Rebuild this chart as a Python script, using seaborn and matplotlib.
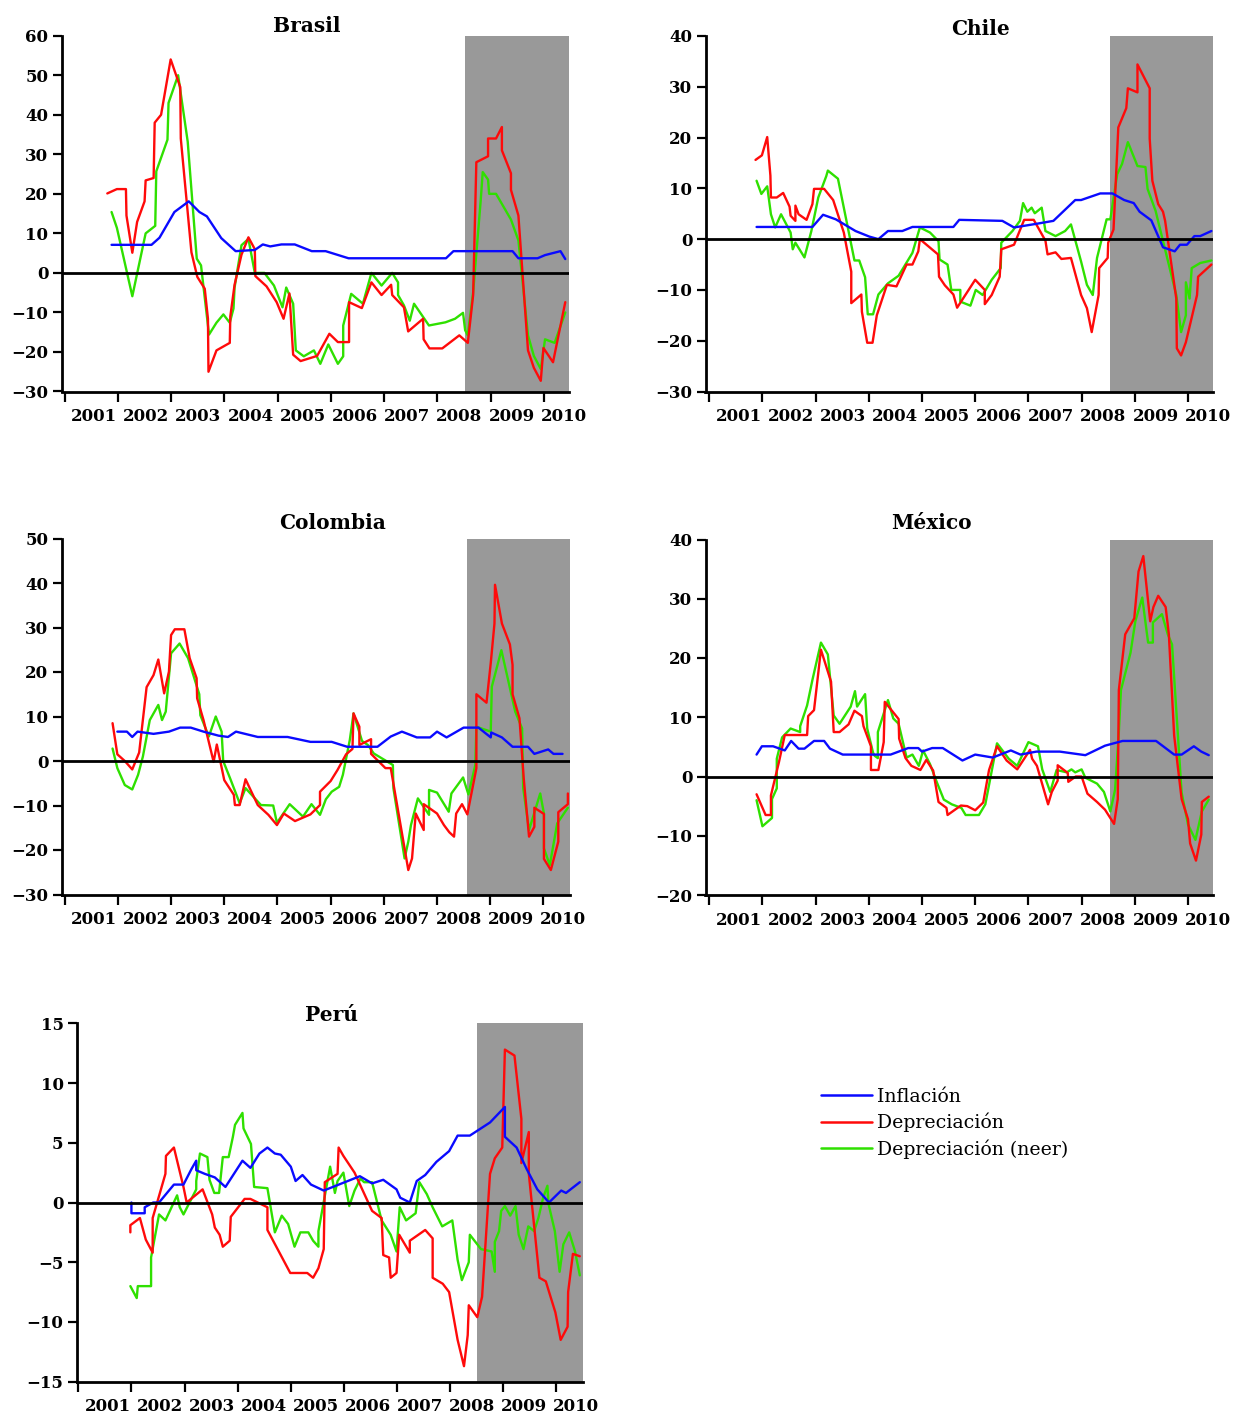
import matplotlib
matplotlib.use("Agg")
import matplotlib.pyplot as plt
from matplotlib.lines import Line2D
import numpy as np
import pandas as pd
import seaborn as sns

# ---------------------------------------------------------------------------
# Series: (decimal year, % y/y). Vertices of each monthly line.
# ---------------------------------------------------------------------------
BRASIL_INFLACION = [
    (2001.88, 7.1), (2002.63, 7.1), (2002.78, 8.9), (2003.06, 15.4), (2003.33, 18.1),
    (2003.53, 15.4), (2003.67, 14.3), (2003.94, 8.8), (2004.21, 5.5), (2004.57, 5.8),
    (2004.72, 7.2), (2004.86, 6.7), (2005.07, 7.2), (2005.32, 7.2), (2005.64, 5.5),
    (2005.90, 5.5), (2006.33, 3.7), (2008.16, 3.7), (2008.30, 5.5), (2009.41, 5.5),
    (2009.52, 3.7), (2009.88, 3.7), (2010.02, 4.5), (2010.31, 5.5), (2010.40, 3.5),
]
BRASIL_DEPRECIACION = [
    (2001.80, 20.1), (2001.98, 21.2), (2002.15, 21.2), (2002.16, 14.5), (2002.27, 5.1),
    (2002.36, 12.9), (2002.50, 18.1), (2002.52, 23.4), (2002.67, 24.0), (2002.69, 38.0),
    (2002.81, 40.0), (2002.99, 54.0), (2003.17, 47.0), (2003.18, 34.0), (2003.38, 5.2),
    (2003.49, -1.0), (2003.63, -4.0), (2003.69, -11.6), (2003.70, -25.0), (2003.85, -19.6),
    (2004.10, -17.7), (2004.11, -11.0), (2004.19, -3.0), (2004.32, 4.6), (2004.45, 9.0),
    (2004.57, 6.0), (2004.58, -0.8), (2004.79, -3.4), (2004.98, -7.4), (2005.11, -11.6),
    (2005.22, -5.2), (2005.29, -20.7), (2005.43, -22.3), (2005.74, -21.0), (2005.97, -15.4),
    (2006.13, -17.5), (2006.34, -17.5), (2006.34, -7.4), (2006.58, -8.9), (2006.76, -2.4),
    (2006.95, -5.6), (2007.13, -3.0), (2007.15, -5.6), (2007.37, -8.7), (2007.45, -14.8),
    (2007.73, -11.6), (2007.74, -16.8), (2007.85, -19.1), (2008.09, -19.1), (2008.41, -15.8),
    (2008.57, -17.7), (2008.67, -5.6), (2008.73, 28.0), (2008.95, 29.5), (2008.95, 34.0),
    (2009.10, 34.0), (2009.21, 36.9), (2009.21, 31.0), (2009.38, 25.2), (2009.38, 21.0),
    (2009.52, 14.5), (2009.70, -19.6), (2009.81, -24.0), (2009.94, -27.3), (2009.99, -19.0),
    (2010.17, -22.6), (2010.40, -7.4),
]
BRASIL_NEER = [
    (2001.88, 15.4), (2001.98, 11.4), (2002.27, -5.9), (2002.52, 10.0), (2002.70, 11.9),
    (2002.72, 25.7), (2002.93, 33.7), (2002.95, 43.0), (2003.13, 50.0), (2003.31, 33.2),
    (2003.48, 3.6), (2003.56, 1.9), (2003.71, -15.6), (2003.85, -12.6), (2003.98, -10.5),
    (2004.10, -12.6), (2004.17, -9.0), (2004.19, -3.7), (2004.32, 7.0), (2004.45, 8.6),
    (2004.57, 0.0), (2004.75, 0.0), (2004.93, -3.2), (2005.09, -8.7), (2005.16, -3.7),
    (2005.29, -7.8), (2005.34, -19.6), (2005.49, -21.1), (2005.68, -19.6), (2005.80, -23.0),
    (2005.95, -18.1), (2006.13, -23.0), (2006.23, -21.1), (2006.23, -13.3), (2006.38, -5.3),
    (2006.60, -7.8), (2006.76, 0.0), (2006.95, -3.2), (2007.15, 0.0), (2007.26, -2.4),
    (2007.26, -5.6), (2007.37, -8.2), (2007.48, -12.1), (2007.56, -7.8), (2007.84, -13.3),
    (2008.15, -12.5), (2008.33, -11.6), (2008.48, -10.1), (2008.52, -14.5), (2008.57, -15.8),
    (2008.67, -4.9), (2008.81, 18.0), (2008.85, 25.5), (2008.95, 23.6), (2008.97, 20.0),
    (2009.10, 20.0), (2009.38, 13.5), (2009.52, 8.2), (2009.70, -15.8), (2009.81, -21.0),
    (2009.94, -24.3), (2010.02, -16.8), (2010.20, -17.7), (2010.40, -10.0),
]

CHILE_INFLACION = [
    (2001.89, 2.4), (2002.94, 2.4), (2003.14, 4.8), (2003.38, 3.9), (2003.75, 1.6),
    (2004.01, 0.5), (2004.18, 0.0), (2004.36, 1.6), (2004.63, 1.6), (2004.82, 2.4),
    (2005.59, 2.4), (2005.70, 3.8), (2006.51, 3.6), (2006.73, 2.3), (2007.14, 3.0),
    (2007.47, 3.6), (2007.88, 7.7), (2007.99, 7.7), (2008.35, 9.0), (2008.58, 9.0),
    (2008.80, 7.7), (2008.98, 7.1), (2009.09, 5.4), (2009.31, 3.7), (2009.53, -1.6),
    (2009.75, -2.4), (2009.85, -1.1), (2009.98, -1.1), (2010.12, 0.6), (2010.23, 0.6),
    (2010.44, 1.6),
]
CHILE_DEPRECIACION = [
    (2001.87, 15.6), (2001.99, 16.5), (2002.09, 20.1), (2002.15, 12.5), (2002.16, 8.2),
    (2002.27, 8.2), (2002.39, 9.1), (2002.51, 6.4), (2002.53, 4.6), (2002.62, 3.6),
    (2002.62, 6.6), (2002.68, 4.9), (2002.83, 3.8), (2002.94, 6.9), (2002.97, 9.9),
    (2003.16, 9.9), (2003.33, 7.7), (2003.53, 1.3), (2003.67, -6.4), (2003.67, -12.6),
    (2003.86, -10.9), (2003.87, -14.3), (2003.97, -20.4), (2004.07, -20.4), (2004.15, -15.0),
    (2004.34, -9.0), (2004.52, -9.3), (2004.71, -5.0), (2004.82, -5.0), (2004.93, -2.4),
    (2004.96, 0.0), (2005.30, -3.0), (2005.32, -7.4), (2005.43, -9.1), (2005.59, -10.9),
    (2005.66, -13.5), (2006.00, -8.0), (2006.18, -10.0), (2006.18, -12.8), (2006.31, -11.0),
    (2006.46, -7.4), (2006.49, -2.0), (2006.73, -1.1), (2006.92, 3.8), (2007.10, 3.8),
    (2007.32, -0.3), (2007.36, -3.0), (2007.51, -2.6), (2007.62, -3.9), (2007.80, -3.7),
    (2007.99, -11.0), (2008.10, -13.6), (2008.19, -18.3), (2008.32, -11.0), (2008.33, -5.7),
    (2008.49, -3.7), (2008.50, -0.7), (2008.60, 1.9), (2008.69, 22.0), (2008.84, 25.8),
    (2008.87, 29.7), (2009.05, 28.9), (2009.05, 34.4), (2009.28, 29.7), (2009.28, 19.8),
    (2009.33, 11.5), (2009.44, 6.9), (2009.53, 5.4), (2009.57, 3.6), (2009.78, -11.7),
    (2009.79, -21.5), (2009.87, -22.9), (2009.96, -20.3), (2010.17, -11.0), (2010.19, -7.4),
    (2010.44, -5.0),
]
CHILE_NEER = [
    (2001.89, 11.5), (2001.98, 8.9), (2002.09, 10.4), (2002.16, 4.9), (2002.24, 2.3),
    (2002.35, 4.9), (2002.53, 1.3), (2002.57, -2.0), (2002.62, -0.7), (2002.79, -3.6),
    (2002.92, 1.6), (2003.05, 8.2), (2003.20, 12.4), (2003.23, 13.5), (2003.42, 11.9),
    (2003.53, 6.2), (2003.73, -4.2), (2003.82, -4.2), (2003.93, -7.5), (2003.98, -14.8),
    (2004.08, -14.8), (2004.18, -10.9), (2004.36, -8.7), (2004.56, -7.2), (2004.82, -2.7),
    (2004.96, 2.3), (2005.15, 1.3), (2005.31, -0.4), (2005.33, -4.0), (2005.48, -5.0),
    (2005.55, -10.0), (2005.72, -10.0), (2005.72, -12.3), (2005.91, -13.1), (2006.01, -10.0),
    (2006.14, -11.0), (2006.31, -8.0), (2006.48, -5.7), (2006.49, -0.7), (2006.70, 1.6),
    (2006.84, 3.6), (2006.90, 7.1), (2006.98, 5.4), (2007.06, 6.2), (2007.12, 5.1),
    (2007.25, 6.2), (2007.32, 1.6), (2007.51, 0.6), (2007.69, 1.6), (2007.80, 2.9),
    (2007.99, -4.4), (2008.10, -9.0), (2008.21, -11.0), (2008.29, -3.7), (2008.47, 3.9),
    (2008.54, 3.9), (2008.67, 12.8), (2008.76, 14.8), (2008.87, 19.1), (2009.05, 14.4),
    (2009.20, 14.2), (2009.24, 9.9), (2009.39, 5.6), (2009.78, -11.0), (2009.87, -18.3),
    (2009.96, -15.0), (2009.96, -8.5), (2010.03, -11.7), (2010.07, -5.7), (2010.23, -4.7),
    (2010.44, -4.2),
]

COLOMBIA_INFLACION = [
    (2001.99, 6.6), (2002.17, 6.6), (2002.27, 5.4), (2002.37, 6.6), (2002.67, 6.1),
    (2002.96, 6.6), (2003.17, 7.5), (2003.37, 7.5), (2003.61, 6.6), (2003.89, 5.7),
    (2004.07, 5.4), (2004.22, 6.6), (2004.63, 5.4), (2005.19, 5.4), (2005.62, 4.3),
    (2006.02, 4.3), (2006.31, 3.2), (2006.88, 3.2), (2007.13, 5.5), (2007.34, 6.6),
    (2007.62, 5.3), (2007.87, 5.3), (2008.00, 6.6), (2008.18, 5.3), (2008.50, 7.5),
    (2008.78, 7.5), (2009.01, 5.3), (2009.02, 6.4), (2009.22, 5.3), (2009.42, 3.2),
    (2009.71, 3.2), (2009.83, 1.6), (2010.09, 2.6), (2010.19, 1.6), (2010.36, 1.6),
]
COLOMBIA_DEPRECIACION = [
    (2001.90, 8.5), (2001.99, 1.5), (2002.13, 0.0), (2002.27, -1.9), (2002.40, 1.9),
    (2002.54, 16.6), (2002.67, 19.3), (2002.76, 22.8), (2002.87, 15.2), (2002.96, 20.1),
    (2003.00, 28.3), (2003.07, 29.6), (2003.25, 29.6), (2003.35, 23.1), (2003.48, 18.6),
    (2003.49, 14.1), (2003.61, 9.2), (2003.80, -0.2), (2003.86, 3.7), (2004.00, -4.3),
    (2004.18, -7.6), (2004.20, -9.9), (2004.29, -9.9), (2004.40, -4.1), (2004.51, -6.9),
    (2004.63, -9.9), (2004.83, -12.1), (2004.99, -14.4), (2005.12, -11.8), (2005.33, -13.5),
    (2005.62, -12.0), (2005.80, -9.9), (2005.80, -6.9), (2006.00, -4.5), (2006.13, -2.0),
    (2006.29, 1.5), (2006.41, 2.7), (2006.43, 10.7), (2006.54, 7.7), (2006.54, 3.6),
    (2006.76, 4.9), (2006.76, 1.6), (2007.03, -1.6), (2007.13, -1.6), (2007.46, -24.5),
    (2007.53, -21.9), (2007.60, -11.8), (2007.75, -15.5), (2007.75, -9.7), (2008.00, -11.8),
    (2008.13, -14.4), (2008.23, -16.0), (2008.32, -17.0), (2008.36, -11.8), (2008.47, -9.7),
    (2008.57, -12.0), (2008.74, -1.6), (2008.74, 15.0), (2008.93, 13.1), (2009.01, 22.0),
    (2009.08, 30.9), (2009.09, 39.6), (2009.22, 30.9), (2009.37, 26.2), (2009.42, 21.6),
    (2009.42, 15.0), (2009.55, 9.6), (2009.63, -3.9), (2009.73, -17.0), (2009.83, -14.8),
    (2009.83, -10.5), (2010.01, -11.9), (2010.01, -22.0), (2010.14, -24.5), (2010.28, -18.1),
    (2010.28, -11.5), (2010.46, -9.7), (2010.46, -7.3),
]
COLOMBIA_NEER = [
    (2001.90, 2.8), (2001.99, -1.6), (2002.13, -5.4), (2002.27, -6.4), (2002.38, -3.1),
    (2002.47, 1.0), (2002.60, 9.2), (2002.76, 12.6), (2002.83, 9.2), (2002.90, 11.1),
    (2003.00, 24.2), (2003.16, 26.4), (2003.32, 23.1), (2003.53, 15.0), (2003.55, 10.3),
    (2003.71, 5.5), (2003.84, 10.0), (2003.95, 6.6), (2003.98, 0.0), (2004.11, -3.9),
    (2004.29, -9.5), (2004.40, -6.1), (2004.69, -9.9), (2004.92, -10.0), (2004.99, -13.9),
    (2005.23, -9.7), (2005.48, -12.5), (2005.64, -9.7), (2005.80, -12.1), (2005.91, -8.6),
    (2006.02, -6.9), (2006.16, -5.8), (2006.23, -3.1), (2006.31, 1.7), (2006.36, 4.7),
    (2006.43, 10.7), (2006.59, 4.5), (2006.70, 3.6), (2006.81, 1.7), (2007.17, -0.9),
    (2007.18, -6.1), (2007.39, -21.9), (2007.46, -18.1), (2007.51, -14.4), (2007.64, -8.4),
    (2007.85, -12.1), (2007.85, -6.5), (2008.00, -7.1), (2008.22, -11.4), (2008.27, -7.3),
    (2008.49, -3.7), (2008.59, -7.5), (2008.72, -0.9), (2008.74, 7.7), (2009.01, 6.6),
    (2009.03, 16.7), (2009.21, 24.9), (2009.47, 11.1), (2009.60, 7.3), (2009.62, -6.1),
    (2009.73, -15.5), (2009.94, -7.3), (2010.01, -11.8), (2010.01, -19.6), (2010.12, -23.4),
    (2010.26, -14.0), (2010.46, -10.5),
]

MEXICO_INFLACION = [
    (2001.89, 3.7), (2001.99, 5.1), (2002.20, 5.1), (2002.42, 4.4), (2002.54, 6.0),
    (2002.68, 4.7), (2002.79, 4.7), (2002.97, 6.0), (2003.16, 6.0), (2003.27, 4.7),
    (2003.51, 3.7), (2004.41, 3.7), (2004.74, 4.8), (2004.93, 4.8), (2005.00, 4.2),
    (2005.19, 4.8), (2005.39, 4.8), (2005.76, 2.7), (2006.00, 3.7), (2006.33, 3.2),
    (2006.67, 4.4), (2006.85, 3.7), (2007.15, 4.2), (2007.59, 4.2), (2008.07, 3.6),
    (2008.44, 5.2), (2008.77, 6.0), (2009.40, 6.0), (2009.74, 3.7), (2009.88, 3.7),
    (2010.11, 5.1), (2010.25, 4.2), (2010.39, 3.6),
]
MEXICO_DEPRECIACION = [
    (2001.89, -3.0), (2002.06, -6.5), (2002.16, -6.5), (2002.16, -3.2), (2002.31, 2.4),
    (2002.42, 7.0), (2002.84, 7.0), (2002.86, 10.2), (2002.97, 11.2), (2003.10, 21.4),
    (2003.29, 16.0), (2003.34, 7.5), (2003.45, 7.5), (2003.62, 8.8), (2003.73, 11.1),
    (2003.87, 10.2), (2003.90, 8.5), (2004.04, 5.1), (2004.04, 1.1), (2004.18, 1.1),
    (2004.28, 5.8), (2004.30, 12.6), (2004.56, 9.7), (2004.57, 6.4), (2004.69, 3.1),
    (2004.80, 1.8), (2004.97, 1.1), (2005.08, 2.8), (2005.21, 1.0), (2005.31, -4.3),
    (2005.46, -5.3), (2005.48, -6.5), (2005.73, -4.9), (2005.85, -5.0), (2006.00, -5.7),
    (2006.15, -4.4), (2006.26, 1.1), (2006.41, 5.1), (2006.59, 2.7), (2006.79, 1.2),
    (2007.03, 4.5), (2007.07, 3.0), (2007.16, 1.8), (2007.37, -4.7), (2007.44, -2.6),
    (2007.55, -0.7), (2007.55, 1.9), (2007.74, 0.6), (2007.75, -0.9), (2007.89, 0.0),
    (2008.00, 0.0), (2008.11, -2.9), (2008.29, -4.3), (2008.44, -5.6), (2008.61, -8.0),
    (2008.68, -3.8), (2008.70, 14.6), (2008.82, 24.0), (2008.99, 26.7), (2009.07, 34.6),
    (2009.16, 37.2), (2009.29, 26.2), (2009.35, 28.6), (2009.44, 30.5), (2009.58, 28.6),
    (2009.64, 24.0), (2009.74, 6.9), (2009.88, -3.8), (2010.00, -7.2), (2010.04, -11.3),
    (2010.15, -14.2), (2010.25, -9.8), (2010.26, -4.3), (2010.39, -3.4),
]
MEXICO_NEER = [
    (2001.89, -4.0), (2002.00, -8.4), (2002.18, -7.0), (2002.18, -3.8), (2002.27, -2.0),
    (2002.27, 3.0), (2002.37, 6.6), (2002.53, 8.1), (2002.71, 7.5), (2002.71, 8.5),
    (2002.84, 12.0), (2002.94, 16.3), (2003.10, 22.6), (2003.23, 20.6), (2003.34, 10.3),
    (2003.45, 8.9), (2003.66, 11.8), (2003.74, 14.4), (2003.78, 11.8), (2003.93, 13.9),
    (2003.97, 8.1), (2004.08, 4.0), (2004.11, 3.5), (2004.17, 3.1), (2004.17, 7.5),
    (2004.36, 12.9), (2004.46, 9.8), (2004.56, 8.9), (2004.71, 3.2), (2004.82, 3.7),
    (2004.94, 1.8), (2005.02, 4.4), (2005.15, 2.1), (2005.28, -1.0), (2005.41, -3.9),
    (2005.56, -4.7), (2005.74, -5.3), (2005.82, -6.5), (2006.07, -6.5), (2006.19, -4.7),
    (2006.41, 5.6), (2006.63, 3.0), (2006.79, 1.8), (2007.00, 5.8), (2007.18, 5.1),
    (2007.26, 1.2), (2007.41, -2.6), (2007.53, 1.1), (2007.72, 0.7), (2007.81, 1.2),
    (2007.88, 0.7), (2008.00, 1.2), (2008.07, -0.2), (2008.29, -1.2), (2008.42, -2.6),
    (2008.54, -5.9), (2008.63, -2.2), (2008.70, 7.5), (2008.74, 14.6), (2008.92, 20.9),
    (2009.01, 26.2), (2009.14, 30.2), (2009.25, 22.6), (2009.34, 22.6), (2009.34, 26.0),
    (2009.51, 27.4), (2009.62, 24.0), (2009.70, 22.3), (2009.88, -2.7), (2010.00, -8.1),
    (2010.14, -10.7), (2010.26, -5.9), (2010.39, -3.9),
]

PERU_INFLACION = [
    (2002.00, 0.0), (2002.00, -0.9), (2002.25, -0.9), (2002.25, -0.4), (2002.41, 0.0),
    (2002.52, 0.0), (2002.80, 1.5), (2002.98, 1.5), (2003.13, 2.8), (2003.22, 3.5),
    (2003.22, 2.7), (2003.38, 2.4), (2003.57, 2.1), (2003.77, 1.3), (2003.93, 2.4),
    (2004.09, 3.5), (2004.24, 2.9), (2004.41, 4.1), (2004.56, 4.6), (2004.70, 4.1),
    (2004.81, 4.0), (2005.00, 3.0), (2005.09, 1.8), (2005.22, 2.3), (2005.38, 1.5),
    (2005.62, 1.0), (2006.30, 2.2), (2006.53, 1.6), (2006.74, 1.9), (2006.99, 1.1),
    (2007.06, 0.4), (2007.24, 0.0), (2007.37, 1.8), (2007.53, 2.3), (2007.74, 3.4),
    (2007.98, 4.3), (2008.14, 5.6), (2008.37, 5.6), (2008.75, 6.7), (2009.03, 8.0),
    (2009.03, 5.5), (2009.25, 4.6), (2009.44, 2.8), (2009.64, 1.1), (2009.86, 0.0),
    (2010.09, 1.0), (2010.18, 0.8), (2010.44, 1.7),
]
PERU_DEPRECIACION = [
    (2001.98, -2.5), (2001.98, -1.9), (2002.16, -1.3), (2002.27, -3.1), (2002.40, -4.2),
    (2002.40, -1.3), (2002.64, 2.4), (2002.65, 3.9), (2002.80, 4.6), (2002.98, 1.3),
    (2003.04, 0.0), (2003.34, 1.1), (2003.52, -1.0), (2003.57, -2.1), (2003.66, -2.7),
    (2003.72, -3.7), (2003.85, -3.2), (2003.87, -1.2), (2004.13, 0.3), (2004.24, 0.3),
    (2004.56, -0.4), (2004.56, -2.3), (2004.99, -5.9), (2005.31, -5.9), (2005.42, -6.3),
    (2005.52, -5.5), (2005.62, -3.9), (2005.64, 1.7), (2005.88, 2.4), (2005.90, 4.6),
    (2005.99, 3.9), (2006.20, 2.5), (2006.53, -0.7), (2006.71, -1.3), (2006.74, -4.4),
    (2006.85, -4.6), (2006.88, -6.3), (2006.99, -5.9), (2007.04, -2.7), (2007.24, -4.2),
    (2007.24, -3.2), (2007.53, -2.3), (2007.67, -3.0), (2007.67, -6.3), (2007.86, -6.8),
    (2007.98, -7.5), (2008.14, -11.5), (2008.26, -13.7), (2008.33, -11.1), (2008.35, -8.6),
    (2008.51, -9.6), (2008.60, -7.9), (2008.75, 2.4), (2008.84, 3.7), (2008.98, 4.6),
    (2009.03, 12.8), (2009.21, 12.3), (2009.34, 7.0), (2009.34, 3.3), (2009.48, 5.9),
    (2009.48, 2.4), (2009.68, -6.3), (2009.80, -6.6), (2009.98, -9.2), (2010.08, -11.5),
    (2010.21, -10.4), (2010.22, -7.5), (2010.31, -4.3), (2010.44, -4.5),
]
PERU_NEER = [
    (2001.98, -7.0), (2002.10, -8.0), (2002.12, -7.0), (2002.37, -7.0), (2002.37, -4.6),
    (2002.52, -1.0), (2002.64, -1.5), (2002.86, 0.6), (2002.91, -0.4), (2002.98, -1.0),
    (2003.22, 1.1), (2003.22, 1.8), (2003.29, 4.1), (2003.43, 3.8), (2003.47, 1.9),
    (2003.56, 0.8), (2003.65, 0.8), (2003.72, 3.8), (2003.83, 3.8), (2003.91, 5.5),
    (2003.95, 6.5), (2004.09, 7.5), (2004.11, 6.2), (2004.25, 4.9), (2004.31, 1.3),
    (2004.56, 1.2), (2004.70, -2.5), (2004.83, -1.1), (2004.95, -1.8), (2005.07, -3.7),
    (2005.18, -2.5), (2005.33, -2.5), (2005.42, -3.2), (2005.52, -3.7), (2005.52, -2.4),
    (2005.74, 3.0), (2005.83, 0.8), (2005.88, 1.8), (2005.99, 2.5), (2006.10, -0.3),
    (2006.20, 1.0), (2006.31, 2.0), (2006.38, 1.7), (2006.53, 1.7), (2006.71, -1.5),
    (2006.88, -2.7), (2006.99, -4.1), (2007.05, -0.4), (2007.17, -1.5), (2007.35, -0.9),
    (2007.42, 1.7), (2007.56, 0.7), (2007.67, -0.4), (2007.85, -2.0), (2008.04, -1.5),
    (2008.14, -4.8), (2008.22, -6.5), (2008.35, -5.0), (2008.37, -2.7), (2008.58, -3.9),
    (2008.78, -4.1), (2008.84, -5.8), (2008.84, -3.3), (2008.92, -2.4), (2008.96, -0.7),
    (2009.03, -0.3), (2009.13, -1.1), (2009.23, -0.3), (2009.29, -2.7), (2009.38, -3.9),
    (2009.47, -2.0), (2009.58, -2.4), (2009.66, -1.3), (2009.75, 0.4), (2009.83, 1.4),
    (2009.85, -0.1), (2009.97, -2.4), (2010.06, -5.8), (2010.13, -3.5), (2010.24, -2.5),
    (2010.35, -4.1), (2010.44, -6.1),
]

SERIES_NAMES = ["Inflación", "Depreciación", "Depreciación (neer)"]
YEARS = list(range(2001, 2011))

PALETTE = {
    "Inflación": "#0a0aff",
    "Depreciación": "#ff0a0a",
    "Depreciación (neer)": "#2fe000",
}

# ---------------------------------------------------------------------------
sns.set_theme(style="ticks")
plt.rcParams["font.family"] = ["DejaVu Serif"]
plt.rcParams["axes.unicode_minus"] = True

W, H = 1233, 1416
fig = plt.figure(figsize=(W / 100, H / 100), dpi=100)


def px_rect(left, top, right, bottom):
    return [left / W, 1 - bottom / H, (right - left) / W, (bottom - top) / H]


panels = [
    dict(title="Brasil", rect=(61.5, 35.7, 569, 391.5), title_xy=(307, 26),
         ylim=(-30, 60), step=10, xlim=(2000.94, 2010.47), shade=2008.51,
         data=(BRASIL_INFLACION, BRASIL_DEPRECIACION, BRASIL_NEER)),
    dict(title="Chile", rect=(705.5, 36.0, 1213, 391.5), title_xy=(981, 29),
         ylim=(-30, 40), step=10, xlim=(2000.93, 2010.47), shade=2008.53,
         data=(CHILE_INFLACION, CHILE_DEPRECIACION, CHILE_NEER)),
    dict(title="Colombia", rect=(61.5, 538.5, 570, 894.5), title_xy=(333, 523),
         ylim=(-30, 50), step=10, xlim=(2000.94, 2010.50), shade=2008.56,
         data=(COLOMBIA_INFLACION, COLOMBIA_DEPRECIACION, COLOMBIA_NEER)),
    dict(title="México", rect=(705.5, 539.5, 1213, 895), title_xy=(931, 523),
         ylim=(-20, 40), step=10, xlim=(2000.93, 2010.47), shade=2008.54,
         data=(MEXICO_INFLACION, MEXICO_DEPRECIACION, MEXICO_NEER)),
    dict(title="Perú", rect=(76.7, 1023.3, 583, 1381.7), title_xy=(331, 1015),
         ylim=(-15, 15), step=5, xlim=(2000.97, 2010.50), shade=2008.50,
         data=(PERU_INFLACION, PERU_DEPRECIACION, PERU_NEER)),
]

LABEL_POS = np.linspace(2001.55, 2010.37, len(YEARS))
TICK_FONT = dict(fontsize=12, fontweight="bold")

for p in panels:
    ax = fig.add_axes(px_rect(*p["rect"]))
    frames = []
    for name, pts in zip(SERIES_NAMES, p["data"]):
        d = pd.DataFrame(pts, columns=["fecha", "valor"])
        d["serie"] = name
        frames.append(d)
    df = pd.concat(frames, ignore_index=True)

    ax.axvspan(p["shade"], p["xlim"][1], color="#999999", lw=0, zorder=0)
    sns.lineplot(data=df, x="fecha", y="valor", hue="serie",
                 hue_order=["Depreciación (neer)", "Depreciación", "Inflación"],
                 palette=PALETTE, estimator=None, sort=False, linewidth=1.7,
                 legend=False, ax=ax, zorder=3)
    ax.axhline(0, color="black", lw=2.0, zorder=4)

    ax.set_xlim(*p["xlim"])
    ax.set_ylim(*p["ylim"])
    ax.set_xlabel("")
    ax.set_ylabel("")
    yt = np.arange(p["ylim"][0], p["ylim"][1] + 0.1, p["step"])
    ax.set_yticks(yt)
    ax.set_yticklabels([f"{int(v)}".replace("-", "\u2212") for v in yt], **TICK_FONT)
    ax.set_xticks(YEARS)
    ax.set_xticklabels([])
    ax.set_xticks(LABEL_POS, minor=True)
    ax.set_xticklabels([str(y) for y in YEARS], minor=True, **TICK_FONT)
    ax.tick_params(axis="x", which="major", length=7.5, width=1.6, color="black",
                   direction="out")
    ax.tick_params(axis="x", which="minor", length=0, pad=12, labelcolor="black")
    ax.tick_params(axis="y", length=6.5, width=1.6, color="black", pad=3,
                   labelcolor="black")
    for s in ("top", "right"):
        ax.spines[s].set_visible(False)
    for s in ("left", "bottom"):
        ax.spines[s].set_linewidth(2.0)
        ax.spines[s].set_color("black")
    ax.set_facecolor("white")

    fig.text(p["title_xy"][0] / W, 1 - p["title_xy"][1] / H, p["title"],
             ha="center", va="center", fontsize=14.5, fontweight="bold",
             color="black")

handles = [Line2D([], [], color=PALETTE[n], lw=1.8) for n in SERIES_NAMES]
fig.legend(handles, SERIES_NAMES, loc="upper left",
           bbox_to_anchor=(821 / W, 1 - 1088 / H), frameon=False,
           fontsize=13.6, handlelength=2.7, handletextpad=0.25,
           labelspacing=0.36, borderpad=0, borderaxespad=0,
           labelcolor="black")

fig.savefig("out.png", dpi=100, facecolor="white")
